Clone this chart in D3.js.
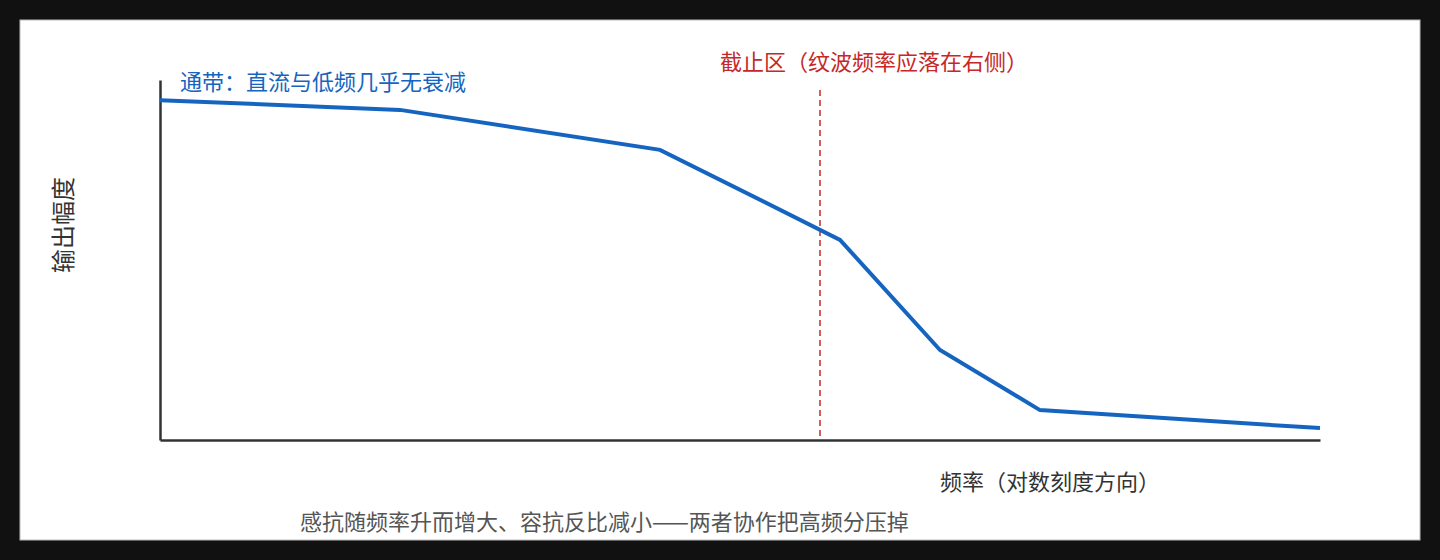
<!DOCTYPE html>
<html><head><meta charset="utf-8">
<script src="https://cdn.jsdelivr.net/npm/d3@7"></script>
<style>
body{margin:0;background:#111;}
svg{display:block;font-family:"Noto Sans CJK SC","Noto Sans",sans-serif;}
</style></head>
<body><svg></svg>
<script>
// Define data
const freq = [0, 240, 500, 680, 780, 880, 1160];
const amp = [0.944, 0.917, 0.806, 0.556, 0.25, 0.083, 0.033];
const cutoff = 660;
const passLabel = "通带：直流与低频几乎无衰减";
const stopLabel = "截止区（纹波频率应落在右侧）";
const xLabel = "频率（对数刻度方向）";
const yLabel = "输出幅度";
const caption = "感抗随频率升而增大、容抗反比减小——两者协作把高频分压掉";

const width = 1440, height = 560;
const svg = d3.select('svg').attr('width', width).attr('height', height);

svg.append('rect').attr('x', 20).attr('y', 20).attr('width', 1400).attr('height', 520)
   .attr('fill', '#fff').attr('stroke', '#bbb');

const xScale = d3.scaleLinear().domain([0, 1160]).range([160, 1320]);
const yScale = d3.scaleLinear().domain([0, 1]).range([440, 80]);

// axes without ticks
svg.append('g').attr('transform', 'translate(0,440)')
   .call(d3.axisBottom(xScale).tickValues([]).tickSizeOuter(0))
   .select('.domain').attr('stroke', '#333').attr('stroke-width', 2.5);
svg.append('g').attr('transform', 'translate(160,0)')
   .call(d3.axisLeft(yScale).tickValues([]).tickSizeOuter(0))
   .select('.domain').attr('stroke', '#333').attr('stroke-width', 2.5);

// cutoff line
svg.append('line').attr('x1', xScale(cutoff)).attr('x2', xScale(cutoff))
   .attr('y1', 90).attr('y2', 440)
   .attr('stroke', '#c62828').attr('stroke-width', 1.5).attr('stroke-dasharray', '6,4');

// response curve
const line = d3.line().x((d, i) => xScale(d)).y((d, i) => yScale(amp[i]));
svg.append('path').datum(freq).attr('d', line)
   .attr('fill', 'none').attr('stroke', '#1565c0').attr('stroke-width', 4);

svg.append('text').attr('x', 180).attr('y', 90).attr('fill', '#1565c0')
   .attr('font-size', 22).text(passLabel);
svg.append('text').attr('x', 720).attr('y', 70).attr('fill', '#c62828')
   .attr('font-size', 22).text(stopLabel);
svg.append('text').attr('x', 940).attr('y', 490).attr('fill', '#333')
   .attr('font-size', 22).text(xLabel);
svg.append('text').attr('transform', 'translate(72,225) rotate(-90)')
   .attr('text-anchor', 'middle').attr('fill', '#333')
   .attr('font-size', 24).text(yLabel);
svg.append('text').attr('x', 300).attr('y', 530).attr('fill', '#555')
   .attr('font-size', 22).text(caption);
</script>
</body></html>
